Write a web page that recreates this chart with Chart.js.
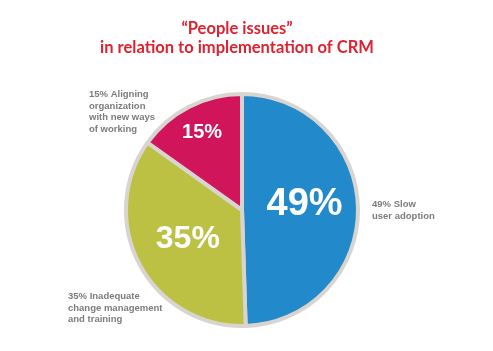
<!DOCTYPE html>
<html>
<head>
<meta charset="utf-8">
<script src="https://cdn.jsdelivr.net/npm/chart.js@4"></script>
<style>
  html, body { margin: 0; padding: 0; background: #fff; }
  #wrap { width: 493px; height: 351px; position: relative; }
</style>
</head>
<body>
<div id="wrap"><canvas id="pieChart"></canvas></div>
<script>
const titleLines = ["\u201cPeople issues\u201d", "in relation to implementation of CRM"];
const categories = ["Slow user adoption", "Inadequate change management and training", "Aligning organization with new ways of working"];
const shares = [49, 35, 15];
const sliceColors = ["#2289cb", "#bcc144", "#d0155a"];
const calloutLines = [
  ["49% Slow", "user adoption"],
  ["35% Inadequate", "change management", "and training"],
  ["15% Aligning", "organization", "with new ways", "of working"]
];

// where each callout text block starts (x, first baseline)
const calloutAt = [[372, 207], [68, 299], [89, 97]];
const innerFont = [38, 32, 20];
const innerRadius = [0.54, 0.53, 0.75];

const labelPlugin = {
  id: "labels",
  afterDraw(chart) {
    const ctx = chart.ctx;
    ctx.save();
    // title
    ctx.fillStyle = "#e1212f";
    ctx.font = "bold 16.5px Lato";
    ctx.textAlign = "center";
    ctx.textBaseline = "alphabetic";
    ctx.fillText(titleLines[0], 237, 34);
    ctx.fillText(titleLines[1], 237, 53);

    // percentages inside slices
    const arcs = chart.getDatasetMeta(0).data;
    arcs.forEach((arc, i) => {
      const mid = (arc.startAngle + arc.endAngle) / 2;
      const r = arc.outerRadius * innerRadius[i];
      ctx.fillStyle = "#ffffff";
      ctx.font = "bold " + innerFont[i] + "px 'Liberation Sans', Arial";
      ctx.textAlign = "center";
      ctx.textBaseline = "middle";
      ctx.fillText(shares[i] + "%", arc.x + Math.cos(mid) * r, arc.y + Math.sin(mid) * r - (i === 0 ? 4 : 0));
    });

    // callouts
    ctx.fillStyle = "#7c7c7c";
    ctx.font = "bold 9.5px 'Liberation Sans', Arial";
    ctx.textAlign = "left";
    ctx.textBaseline = "alphabetic";
    calloutLines.forEach((lines, i) => {
      lines.forEach((t, j) => {
        ctx.fillText(t, calloutAt[i][0], calloutAt[i][1] + j * 11.5);
      });
    });
    ctx.restore();
  }
};

new Chart(document.getElementById("pieChart"), {
  type: "pie",
  data: {
    labels: categories,
    datasets: [{
      data: shares,
      backgroundColor: sliceColors,
      borderColor: "#d8d4d0",
      borderWidth: 4,
      hoverOffset: 0
    }]
  },
  options: {
    responsive: true,
    maintainAspectRatio: false,
    animation: false,
    layout: { padding: { top: 92, bottom: 23, left: 100, right: 109 } },
    plugins: {
      legend: { display: false },
      tooltip: { enabled: false },
      title: { display: false }
    }
  },
  plugins: [labelPlugin]
});
</script>
</body>
</html>
